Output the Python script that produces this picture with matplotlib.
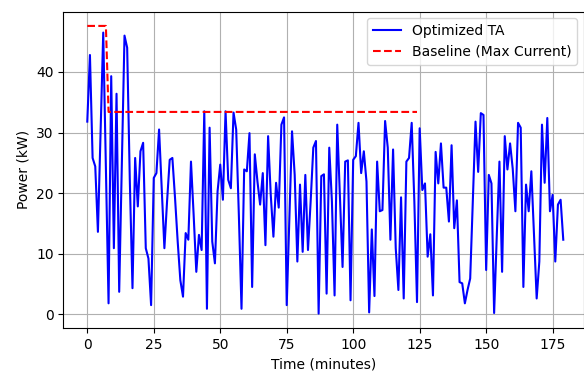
import matplotlib
matplotlib.use("Agg")
import matplotlib.pyplot as plt

# optimized power profile, one value per minute
power_kw = [
    31.8, 42.8, 25.8, 24.4, 13.6, 30.0, 46.5, 24.0, 1.8, 39.3,
    10.9, 36.4, 3.7, 25.0, 46.0, 44.0, 22.0, 4.3, 25.8, 17.8,
    26.9, 28.3, 10.9, 9.2, 1.5, 22.5, 23.3, 30.5, 20.8, 10.9,
    18.6, 25.5, 25.8, 19.2, 12.0, 5.6, 2.9, 13.4, 12.3, 25.2,
    16.4, 7.0, 13.1, 10.6, 33.5, 0.9, 30.8, 12.0, 8.4, 20.3,
    24.7, 18.9, 33.5, 22.2, 20.8, 33.3, 30.5, 16.4, 0.9, 23.9,
    23.6, 29.9, 4.5, 26.4, 21.9, 18.1, 23.3, 11.4, 29.4, 19.7,
    12.8, 21.7, 17.6, 31.3, 32.5, 1.5, 16.0, 30.2, 23.0, 8.7,
    21.4, 10.3, 23.0, 10.6, 18.6, 27.5, 28.6, 0.1, 22.8, 23.1,
    3.4, 27.5, 18.6, 3.1, 31.3, 19.7, 7.8, 25.2, 25.4, 2.3,
    25.5, 26.1, 31.6, 23.3, 26.9, 21.9, 0.3, 14.0, 3.0, 25.2,
    17.0, 17.2, 31.9, 27.5, 12.3, 27.2, 10.9, 4.0, 19.3, 2.6,
    25.2, 25.8, 31.6, 18.6, 2.0, 30.7, 20.5, 21.6, 9.5, 13.2,
    3.1, 26.8, 21.6, 28.2, 20.9, 20.9, 15.3, 27.9, 14.2, 18.8,
    5.3, 5.1, 1.8, 4.0, 5.9, 19.0, 31.8, 23.5, 33.2, 32.9,
    7.3, 23.0, 21.6, 0.2, 13.0, 25.2, 7.0, 29.4, 23.9, 28.2,
    24.0, 17.0, 31.6, 30.8, 4.5, 21.4, 17.0, 23.6, 13.0, 2.6,
    8.7, 31.3, 21.7, 32.4, 17.0, 19.7, 8.7, 18.1, 18.9, 12.3,
]
minutes = list(range(len(power_kw)))

# baseline (max current) step
baseline_t = [0, 7, 8, 124]
baseline_kw = [47.6, 47.6, 33.4, 33.4]

fig = plt.figure(figsize=(5.84, 3.71), dpi=100)
ax = fig.add_axes([0.1087, 0.1159, 0.8913, 0.853])

ax.plot(minutes, power_kw, 'b-', label='Optimized TA')
ax.plot(baseline_t, baseline_kw, 'r--', label='Baseline (Max Current)')

ax.set_xlim(-8.95, 186.8)
ax.set_xlabel('Time (minutes)')
ax.set_ylabel('Power (kW)')
ax.grid(True)
ax.legend(loc='upper right')

fig.savefig('out.png', dpi=100)
